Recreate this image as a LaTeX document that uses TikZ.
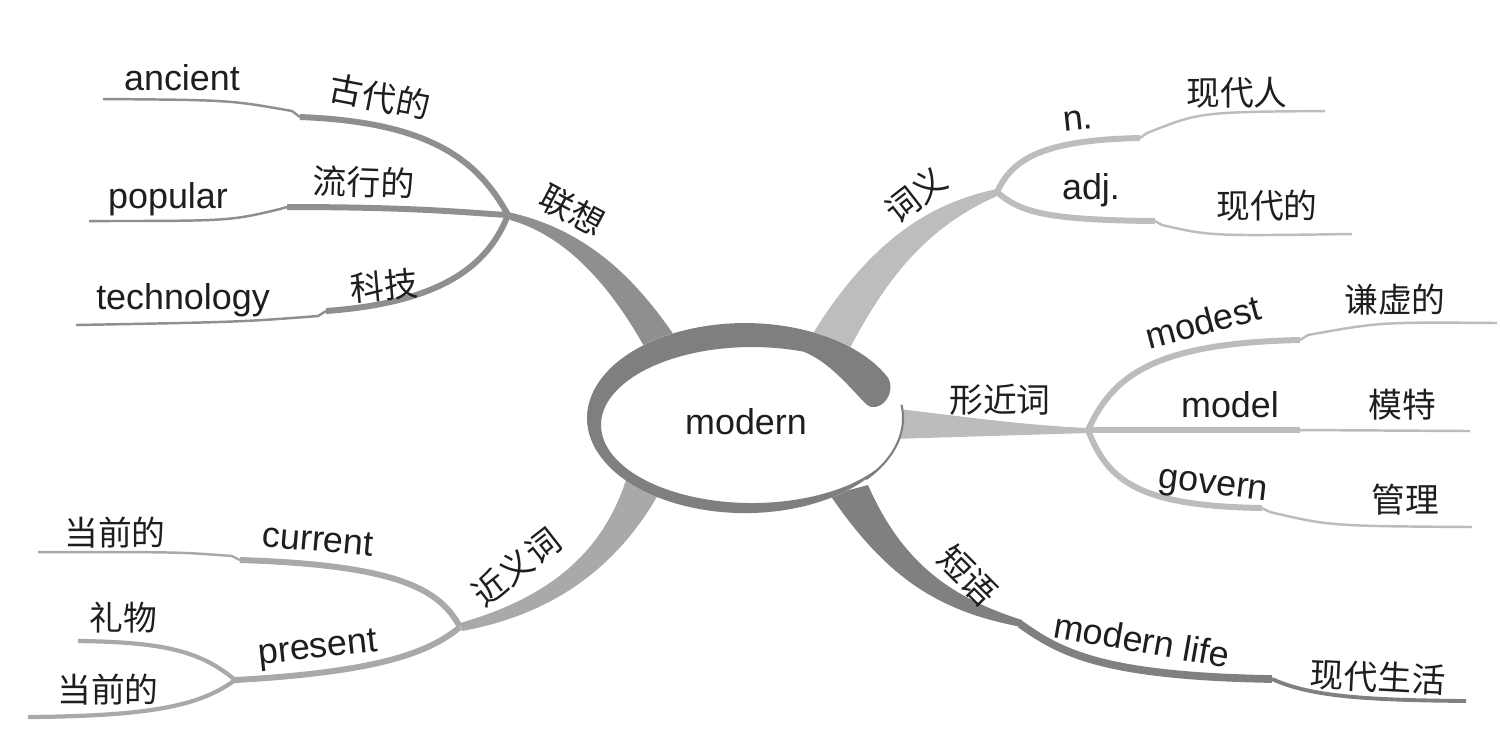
\documentclass[tikz,border=0pt]{standalone}
\usepackage{fontspec}
\setmainfont{Liberation Sans}
\newfontfamily\cjk{Noto Sans CJK SC}
\definecolor{ringgray}{HTML}{7F7F7F}
\definecolor{assocgray}{HTML}{8F8F8F}
\definecolor{meangray}{HTML}{BDBDBD}
\definecolor{formgray}{HTML}{BCBCBC}
\definecolor{phrasegray}{HTML}{808080}
\definecolor{syngray}{HTML}{A9A9A9}
\definecolor{inkgray}{HTML}{1E1E1E}

\begin{document}
\begin{tikzpicture}[x=0.01cm, y=-0.01cm,
    en/.style={inner sep=0pt, text=inkgray, font=\fontsize{10.2}{12}\selectfont},
    zh/.style={inner sep=0pt, text=inkgray, font=\cjk\fontsize{9.6}{12}\selectfont},
    twig/.style={line width=1.7pt},
    leaf/.style={line width=0.7pt}]
    \useasboundingbox (0,0) rectangle (1500,750);

    % 联想
    \coordinate (hubA) at (508,215);
    \fill[assocgray] (508,212) .. controls (580,228) and (630,270) .. (676,338) -- (645,348) .. controls (610,285) and (565,235) .. (510,220) -- cycle;
    \draw[assocgray, twig] (hubA) .. controls (478,160) and (430,122) .. (300,117);
    \draw[assocgray, leaf] (300,117) -- (292,111) .. controls (230,100) .. (103,99);
    \draw[assocgray, twig] (hubA) .. controls (470,213) and (420,207) .. (287,207);
    \draw[assocgray, leaf] (287,207) -- (280,209) .. controls (230,221) .. (89,221);
    \draw[assocgray, twig] (hubA) .. controls (490,260) and (450,302) .. (326,311);
    \draw[assocgray, leaf] (326,311) -- (318,316) .. controls (240,322) .. (76,325);

    % 词义
    \coordinate (hubM) at (997,192);
    \fill[meangray] (997,189) .. controls (930,203) and (870,240) .. (810,338) -- (850,348) .. controls (890,272) and (930,226) .. (997,196) -- cycle;
    \draw[meangray, twig] (hubM) .. controls (1012,160) and (1040,140) .. (1140,138);
    \draw[meangray, leaf] (1140,138) -- (1147,133) .. controls (1200,112) .. (1325,111);
    \draw[meangray, twig] (hubM) .. controls (1020,212) and (1045,220) .. (1155,221);
    \draw[meangray, leaf] (1155,221) -- (1162,225) .. controls (1210,236) .. (1352,234);

    % 形近词
    \coordinate (hubF) at (1088,430);
    \fill[formgray] (890,408) .. controls (960,416) and (1020,425) .. (1088,428) -- (1088,433) .. controls (1020,435) and (960,437) .. (890,439) -- cycle;
    \draw[formgray, twig] (hubF) .. controls (1112,378) and (1150,343) .. (1300,340);
    \draw[formgray, leaf] (1300,340) -- (1308,335) .. controls (1380,322) .. (1497,323);
    \draw[formgray, twig] (hubF) -- (1300,430);
    \draw[formgray, leaf] (1300,430) -- (1470,431);
    \draw[formgray, twig] (hubF) .. controls (1108,482) and (1140,506) .. (1262,508);
    \draw[formgray, leaf] (1262,508) -- (1270,512) .. controls (1330,526) .. (1472,527);

    % 短语
    \coordinate (kinkP) at (1020,624);
    \fill[phrasegray] (830,495) .. controls (885,575) and (935,611) .. (1022,627) -- (1022,620) .. controls (960,600) and (905,570) .. (868,485) -- cycle;
    \draw[phrasegray, line width=2.2pt] (kinkP) .. controls (1060,652) and (1100,676) .. (1272,679);
    \draw[phrasegray, line width=1.1pt] (1272,679) .. controls (1310,696) and (1360,700) .. (1466,701);

    % 近义词
    \coordinate (hubS) at (460,627);
    \coordinate (hubP) at (235,680);
    \fill[syngray] (460,623) .. controls (540,600) and (600,560) .. (626,480) -- (658,495) .. controls (615,570) and (550,615) .. (462,631) -- cycle;
    \draw[syngray, twig] (hubS) .. controls (440,590) and (400,565) .. (240,560);
    \draw[syngray, leaf] (240,560) -- (232,556) .. controls (180,552) .. (38,552);
    \draw[syngray, twig] (hubS) .. controls (430,652) and (380,672) .. (hubP);
    \draw[syngray, line width=1.2pt] (hubP) .. controls (200,650) and (160,642) .. (78,641);
    \draw[syngray, line width=1.2pt] (hubP) .. controls (200,706) and (150,716) .. (28,717);

    % centre
    \fill[white] (745,418) ellipse[x radius=158, y radius=95];
    \fill[ringgray] (888.2,377.9) arc[start angle=335, end angle=30, x radius=158, y radius=95]
        -- (882.8,464) arc[start angle=30, end angle=290, x radius=151, y radius=78]
        .. controls (830,362) and (852,390) .. (866,404)
        .. controls (878,415) and (897,395) .. (888.2,377.9) -- cycle;
    \draw[ringgray, line width=0.6pt] (901.5,404.8) arc[start angle=-8, end angle=40, x radius=158, y radius=95];
    \node[en] (modern) at (746,422) {modern};

    \node[en] (ancient) at (182,78) {ancient};
    \node[zh, rotate=-11] (gudai) at (380,97) {古代的};
    \node[en] (popular) at (168,199) {popular};
    \node[zh, rotate=-2] (liuxing) at (364,182) {流行的};
    \node[en] (technology) at (183,300) {technology};
    \node[zh, rotate=5] (keji) at (384,286) {科技};
    \node[zh, rotate=-28] (lianxiang) at (572,210) {联想};

    \node[zh, rotate=38] (ciyi) at (916,195) {词义};
    \node[en, rotate=6] (noun) at (1078,120) {n.};
    \node[zh] (xiandairen) at (1237,93) {现代人};
    \node[en] (adj) at (1091,190) {adj.};
    \node[zh] (xiandaide) at (1267,206) {现代的};

    \node[zh] (xingjin) at (1000,400) {形近词};
    \node[en, rotate=15] (modest) at (1203,322) {modest};
    \node[zh] (qianxu) at (1395,300) {谦虚的};
    \node[en] (model) at (1230,405) {model};
    \node[zh] (mote) at (1402,405) {模特};
    \node[en, rotate=-7] (govern) at (1213,488) {govern};
    \node[zh] (guanli) at (1405,500) {管理};

    \node[zh, rotate=-45] (duanyu) at (968,575) {短语};
    \node[en, rotate=-10] (modernlife) at (1142,640) {modern life};
    \node[zh, rotate=-3] (shenghuo) at (1378,677) {现代生活};

    \node[zh, rotate=38] (jinyi) at (516,567) {近义词};
    \node[en, rotate=-5] (current) at (318,540) {current};
    \node[zh] (dangqianA) at (115,533) {当前的};
    \node[en, rotate=6] (present) at (318,650) {present};
    \node[zh] (liwu) at (123,618) {礼物};
    \node[zh] (dangqianB) at (108,690) {当前的};
\end{tikzpicture}
\end{document}
